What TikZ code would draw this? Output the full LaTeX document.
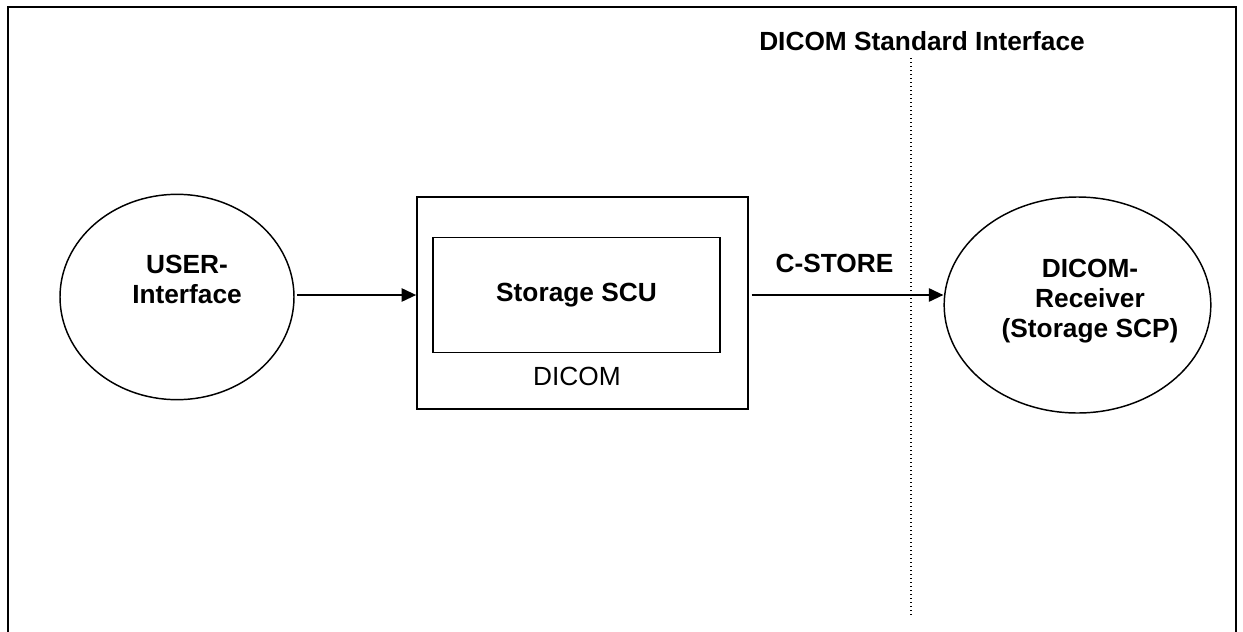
\documentclass[tikz,border=0pt]{standalone}
\usepackage{fontspec}
\setmainfont{Liberation Sans}
\usetikzlibrary{arrows.meta}
\usetikzlibrary{shapes.geometric}

\tikzset{
  bubble/.style={draw,ellipse,line width=1.1pt,inner sep=0pt},
  boxframe/.style={draw,rectangle,line width=1.5pt,inner sep=0pt},
  flow/.style={-{Triangle[length=11pt,width=10pt]},line width=1.5pt,shorten <=2pt},
  txt/.style={font=\bfseries\fontsize{19.7}{22.5}\selectfont,align=center,inner sep=0pt},
  plaintxt/.style={font=\fontsize{19.7}{22.5}\selectfont,inner sep=0pt}
}

\begin{document}
\begin{tikzpicture}[x=0.75pt,y=-0.75pt]

    \useasboundingbox (0,0) rectangle (1243,632);

    % outer frame, open at the bottom
    \draw[line width=1.5pt] (8,632) -- (8,7) -- (1236,7) -- (1236,632);

    % ellipses
    \node[bubble,minimum width=175.5pt,minimum height=154pt] (user) at (177,297) {};
    \node[txt] (usertxt) at (187,279) {USER-\\Interface};

    \node[bubble,minimum width=200pt,minimum height=162pt] (receiver) at (1077.5,305) {};
    \node[txt] (receivertxt) at (1090,301) {DICOM-\\Receiver\\(Storage SCP)};

    % dicom box with storage scu inside
    \node[boxframe,minimum width=248pt,minimum height=158.5pt] (dicom) at (582.5,303) {};
    \node[boxframe,line width=1.1pt,minimum width=215pt,minimum height=86pt,txt] (scu) at (576.5,295) {Storage SCU};
    \node[plaintxt] (dicomtxt) at (577,376.5) {DICOM};

    % interface line
    \node[txt] (iface) at (922,41) {DICOM Standard Interface};
    \coordinate (ifacetop) at (911,58);
    \coordinate (ifacebot) at (911,616);
    \draw[line width=1pt,dash pattern=on 1pt off 2pt] (ifacetop) -- (ifacebot);

    % arrows
    \draw[flow] (user.east |- scu) -- (dicom.west |- scu);
    \draw[flow] (dicom.east |- scu) -- node[txt,above=16pt,pos=0.44] (cstore) {C-STORE} (receiver.west |- scu);

\end{tikzpicture}
\end{document}
